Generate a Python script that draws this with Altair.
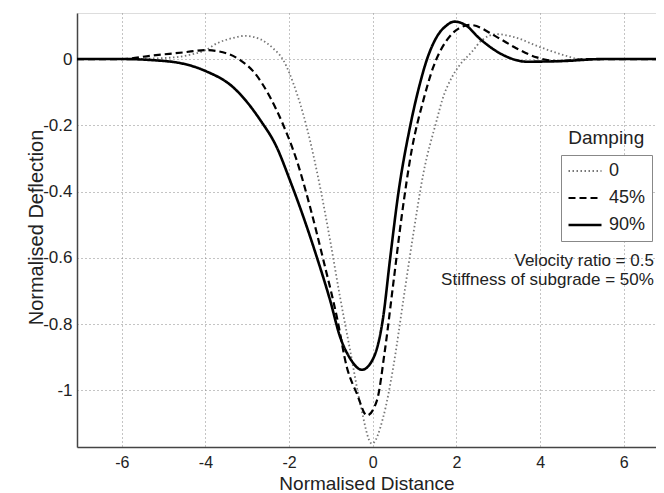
import altair as alt
import pandas as pd

# ---- data ----
series_names = ["0", "45%", "90%"]

x_0 = [-7.07, -6.0, -5.0, -4.4, -4.0, -3.73, -3.33, -3.05, -2.69, -2.38, -2.14, -1.90, -1.58,
       -1.26, -1.02, -0.78, -0.54, -0.30, -0.02, 0.25, 0.49, 0.73, 0.97, 1.21, 1.53, 1.66,
       1.90, 2.05, 2.37, 2.61, 2.96, 3.36, 4.0, 4.56, 4.96, 5.5, 6.77]
y_0 = [0, 0, 0.003, 0.012, 0.027, 0.047, 0.064, 0.070, 0.060, 0.032, -0.003, -0.073, -0.205,
       -0.386, -0.547, -0.72, -0.88, -1.04, -1.161, -1.081, -0.930, -0.728, -0.527, -0.345,
       -0.184, -0.124, -0.053, -0.023, 0.022, 0.057, 0.075, 0.067, 0.036, 0.012, 0.0, 0, 0]

x_45 = [-7.07, -6.0, -5.32, -4.53, -4.0, -3.49, -3.17, -2.85, -2.46, -2.14, -1.82, -1.50, -1.18,
        -0.86, -0.62, -0.38, -0.14, 0.10, 0.29, 0.49, 0.69, 0.93, 1.21, 1.45, 1.77, 2.05, 2.33,
        2.96, 3.44, 3.92, 4.40, 5.2, 6.77]
y_45 = [0, 0, 0.010, 0.020, 0.027, 0.017, -0.003, -0.038, -0.114, -0.199, -0.305, -0.446, -0.607,
        -0.778, -0.930, -1.010, -1.076, -1.030, -0.879, -0.678, -0.476, -0.275, -0.124, -0.023,
        0.057, 0.092, 0.103, 0.067, 0.032, 0.005, -0.006, 0, 0]

x_90 = [-7.07, -6.0, -5.3, -4.5, -4.0, -3.33, -2.69, -2.3, -1.98, -1.66, -1.34, -1.02, -0.78,
        -0.54, -0.26, 0.01, 0.25, 0.41, 0.61, 0.89, 1.13, 1.29, 1.53, 1.75, 1.95, 2.2, 2.57,
        3.12, 3.68, 4.56, 5.5, 6.77]
y_90 = [0, 0, -0.003, -0.015, -0.036, -0.086, -0.184, -0.265, -0.366, -0.476, -0.597, -0.728,
        -0.839, -0.904, -0.938, -0.904, -0.778, -0.607, -0.406, -0.205, -0.073, -0.003, 0.067,
        0.100, 0.113, 0.104, 0.060, 0.012, -0.008, -0.006, 0, 0]

x_ticks = [-6, -4, -2, 0, 2, 4, 6]
y_ticks = [-1, -0.8, -0.6, -0.4, -0.2, 0]

legend_title = ["Damping"]
legend_title_x = [5.58]
legend_title_y = [-0.255]

note_text = ["Velocity ratio = 0.5", "Stiffness of subgrade = 50%"]
note_x = [6.72, 6.72]
note_y = [-0.624, -0.681]

# ---- build tables ----
rows = []
for name, xs, ys in [("0", x_0, y_0), ("45%", x_45, y_45), ("90%", x_90, y_90)]:
    for xv, yv in zip(xs, ys):
        rows.append({"Damping": name, "x": xv, "y": yv})
df = pd.DataFrame(rows)
df_title = pd.DataFrame({"t": legend_title, "x": legend_title_x, "y": legend_title_y})
df_note = pd.DataFrame({"t": note_text, "x": note_x, "y": note_y})

FONT = "Liberation Sans"
xscale = alt.Scale(domain=[-7.07, 6.77], nice=False, zero=False)
yscale = alt.Scale(domain=[-1.171, 0.139], nice=False, zero=False)

leg = alt.Legend(
    title=None, orient="none", legendX=484, legendY=142,
    symbolType="stroke", symbolSize=1089, labelFontSize=18, labelFont=FONT,
    labelColor="#222", padding=6, strokeColor="#888", fillColor="white",
    clipHeight=20, rowPadding=7, labelOffset=6,
)

x_axis = alt.Axis(
    values=x_ticks,
    labelExpr="datum.value < 0 ? '-' + format(abs(datum.value), '~g') : format(datum.value, '~g')",
    grid=True, gridDash=[1, 3], gridColor="#888", gridWidth=1,
    ticks=False, tickSize=0, domainColor="#444", domainWidth=1.5,
    labelFontSize=16, labelFont=FONT, labelColor="#222", labelPadding=7,
    title="Normalised Distance", titleFontSize=19, titleFont=FONT, titleFontWeight="normal",
    titleColor="#222", titleBaseline="alphabetic", titleY=42,
)
y_axis = alt.Axis(
    values=y_ticks,
    labelExpr="datum.value == 0 ? '0' : '-' + format(abs(datum.value), '~g')",
    grid=True, gridDash=[1, 3], gridColor="#888", gridWidth=1,
    ticks=False, tickSize=0, domainColor="#444", domainWidth=1.5,
    labelFontSize=17, labelFont=FONT, labelColor="#222", labelPadding=5,
    title="Normalised Deflection", titleFontSize=20, titleFont=FONT, titleFontWeight="normal",
    titleColor="#222", titleBaseline="alphabetic", titleX=-35, titleY=214,
)

lines = alt.Chart(df).mark_line(interpolate="monotone", clip=True).encode(
    x=alt.X("x:Q", scale=xscale, axis=x_axis),
    y=alt.Y("y:Q", scale=yscale, axis=y_axis),
    color=alt.Color("Damping:N", scale=alt.Scale(domain=series_names, range=["#777777", "#000000", "#000000"]), legend=leg),
    strokeDash=alt.StrokeDash("Damping:N", scale=alt.Scale(domain=series_names, range=[[1.5, 2.5], [7, 4], [1, 0]]), legend=leg),
    strokeWidth=alt.StrokeWidth("Damping:N", scale=alt.Scale(domain=series_names, range=[1.8, 2.6, 2.6]), legend=leg),
    order=alt.Order("x:Q"),
)

title_text = alt.Chart(df_title).mark_text(
    align="center", baseline="alphabetic", fontSize=19, font=FONT, color="#222"
).encode(x=alt.X("x:Q", scale=xscale), y=alt.Y("y:Q", scale=yscale), text="t:N")

notes = alt.Chart(df_note).mark_text(
    align="right", baseline="alphabetic", fontSize=17, font=FONT, color="#222"
).encode(x=alt.X("x:Q", scale=xscale), y=alt.Y("y:Q", scale=yscale), text="t:N")

chart = alt.layer(lines, title_text, notes).properties(
    width=579, height=434,
    autosize=alt.AutoSizeParams(type="none"),
    padding={"left": 69, "top": 5, "right": 0, "bottom": 46},
).configure_view(stroke=None).configure(background="white")

chart.save("out.html", embed_options={"renderer": "svg", "actions": False})
